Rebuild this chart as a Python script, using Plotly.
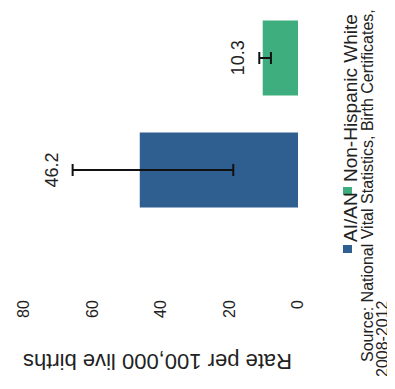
import plotly.graph_objects as go

groups = ["AI/AN", "Non-Hispanic White"]
rates = [46.2, 10.3]
err_plus = [19.6, 1.0]
err_minus = [27.3, 2.4]
bar_colors = ["#2F5E90", "#3FAE7E"]
tick_vals = [0, 20, 40, 60, 80]
axis_title = "Rate per 100,000 live births"
source_lines = ["Source: National Vital Statistics, Birth Certificates,", "2008-2012"]

W, H = 395, 389
OFF = 8  # page body margin
ML, MR, MT, MB = 16, 105, 0, 101
PW, PH = W - ML - MR, H - MT - MB
FONT = "Liberation Sans, Arial, sans-serif"
INK = "#222222"


def px(x):
    # window pixel -> paper x
    return (x - OFF - ML) / PW


def py(y):
    # window pixel -> paper y
    return (H - MB - (y - OFF)) / PH


def note(x, y, text, size, angle=-90):
    fig.add_annotation(x=px(x), y=py(y), xref="paper", yref="paper", text=text,
                       textangle=angle, showarrow=False, xanchor="center",
                       yanchor="middle", font=dict(size=size, color=INK, family=FONT))


fig = go.Figure()
fig.add_trace(go.Bar(
    x=rates, y=groups, orientation="h", width=0.67,
    marker=dict(color=bar_colors, line=dict(width=0)),
    error_x=dict(type="data", array=err_plus, arrayminus=err_minus,
                 color="#111111", thickness=2, width=6),
    showlegend=False, hoverinfo="skip"))

# value labels beyond the error bars
for g, v, e in zip(groups, rates, err_plus):
    fig.add_annotation(x=v + e, y=g, xref="x", yref="y", text=f"{v}",
                       textangle=-90, showarrow=False, xanchor="right", yanchor="middle",
                       xshift=-9, font=dict(size=18, color=INK, family=FONT))

# axis title, upside down like the scan
note(158, 362, axis_title, 22, angle=180)

# legend: squares + rotated labels
for c, (y0, y1) in zip(bar_colors, [(245, 253), (187, 195)]):
    fig.add_shape(type="rect", xref="paper", yref="paper",
                  x0=px(343), x1=px(352), y0=py(y1), y1=py(y0),
                  fillcolor=c, line=dict(width=0))
note(350, 217, groups[0], 19)
note(350, 98, groups[1], 19)

# source note
note(367, 186, source_lines[0], 16)
note(382, 339, source_lines[1], 16)

fig.update_xaxes(range=[80, 0], tickvals=tick_vals, tickangle=-90, automargin=False,
                 showgrid=False, zeroline=False, showline=False, ticks="",
                 tickfont=dict(size=16, color=INK, family=FONT))
fig.update_yaxes(range=[-1.125, 1.446], showticklabels=False, showgrid=False,
                 automargin=False, zeroline=False, showline=False, ticks="")
fig.update_layout(width=W, height=H, margin=dict(l=ML, r=MR, t=MT, b=MB, pad=0),
                  plot_bgcolor="white", paper_bgcolor="white")

fig.write_html("out.html")
